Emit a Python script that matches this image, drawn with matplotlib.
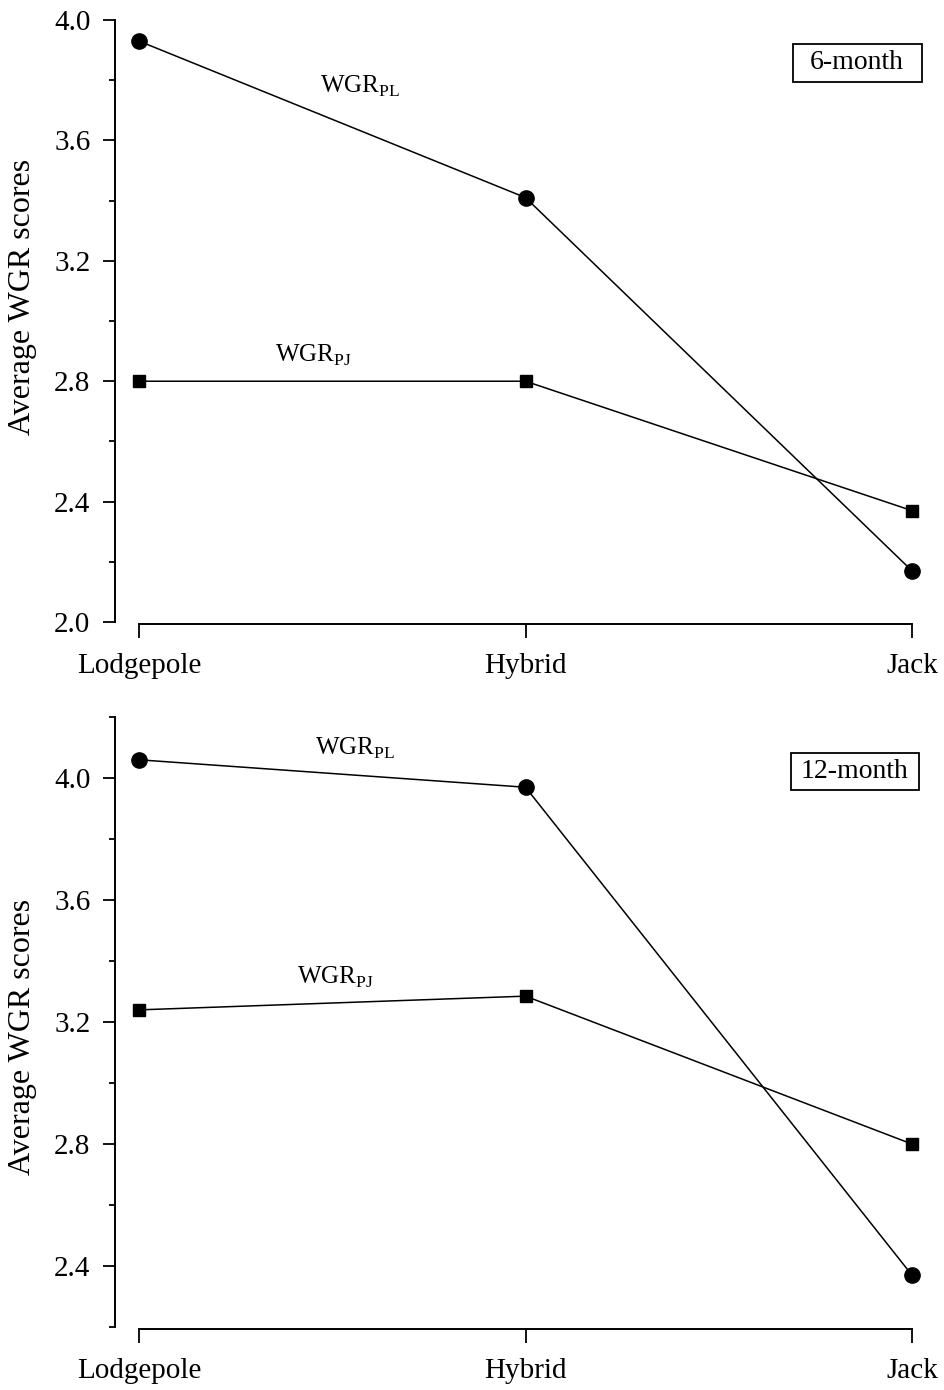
import matplotlib
matplotlib.use("Agg")
import matplotlib.pyplot as plt
from matplotlib.patches import Rectangle
from matplotlib.ticker import MultipleLocator, FormatStrFormatter

plt.rcParams["font.family"] = ["Liberation Serif", "DejaVu Serif"]
plt.rcParams["mathtext.fontset"] = "custom"
plt.rcParams["mathtext.rm"] = "Liberation Serif"

# Pine groups on the x axis
species = ["Lodgepole", "Hybrid", "Jack"]

# Average WGR scores, 6-month assessment
wgr_pl_6 = [3.93, 3.41, 2.17]
wgr_pj_6 = [2.80, 2.80, 2.37]

# Average WGR scores, 12-month assessment
wgr_pl_12 = [4.06, 3.97, 2.37]
wgr_pj_12 = [3.24, 3.285, 2.80]

panels = [
    dict(pl=wgr_pl_6, pj=wgr_pj_6, title="6-month", ylim=(2.0, 4.0),
         rect=[0.1471, 0.5525, 0.818, 0.4331],
         pl_lab=(0.468, 3.78), pj_lab=(0.351, 2.887),
         box=(0.846, 0.897, 0.167, 0.063), tpos=(0.929, 0.9286),
         ylab_y=0.54),
    dict(pl=wgr_pl_12, pj=wgr_pj_12, title="12-month", ylim=(2.2, 4.2),
         rect=[0.1471, 0.0453, 0.818, 0.4388],
         pl_lab=(0.455, 4.098), pj_lab=(0.408, 3.348),
         box=(0.843, 0.880, 0.166, 0.061), tpos=(0.926, 0.9115),
         ylab_y=0.475),
]

fig = plt.figure(figsize=(9.45, 13.9), dpi=100)
x = list(range(len(species)))

for p in panels:
    ax = fig.add_axes(p["rect"])
    ax.plot(x, p["pl"], color="black", lw=1.1, marker="o", ms=11,
            mfc="black", mec="black", clip_on=False, zorder=3)
    ax.plot(x, p["pj"], color="black", lw=1.1, marker="s", ms=9.3,
            mfc="black", mec="black", clip_on=False, zorder=3)

    ax.set_xlim(0, 2)
    ax.set_ylim(*p["ylim"])
    ax.set_xticks(x)
    ax.set_xticklabels(species)
    ax.yaxis.set_major_locator(MultipleLocator(0.4))
    ax.yaxis.set_minor_locator(MultipleLocator(0.2))
    ax.yaxis.set_major_formatter(FormatStrFormatter("%.1f"))

    for side in ("top", "right"):
        ax.spines[side].set_visible(False)
    ax.spines["left"].set_position(("outward", 17))
    ax.spines["bottom"].set_position(("outward", 1.5))
    ax.spines["left"].set_linewidth(1.4)
    ax.spines["bottom"].set_linewidth(1.4)

    ax.tick_params(axis="y", which="major", direction="out", length=9,
                   width=1.3, pad=9, labelsize=21)
    ax.tick_params(axis="y", which="minor", direction="out", length=4,
                   width=1.3)
    ax.tick_params(axis="x", which="major", direction="out", length=10,
                   width=1.3, pad=11, labelsize=21)

    ax.set_ylabel("Average WGR scores", fontsize=23)
    ax.yaxis.set_label_coords(-0.151, p["ylab_y"])
    ax.yaxis.label.set(ha="center", va="center", rotation_mode="default")

    ax.text(*p["pl_lab"], r"WGR$_{\mathrm{PL}}$", fontsize=18,
            ha="left", va="center")
    ax.text(*p["pj_lab"], r"WGR$_{\mathrm{PJ}}$", fontsize=18,
            ha="left", va="center")

    bx, by, bw, bh = p["box"]
    ax.add_patch(Rectangle((bx, by), bw, bh, transform=ax.transAxes,
                           fill=False, ec="black", lw=1.3, clip_on=False))
    ax.text(*p["tpos"], p["title"], transform=ax.transAxes, fontsize=20,
            ha="center", va="center")

fig.savefig("out.png", dpi=100, facecolor="white")
